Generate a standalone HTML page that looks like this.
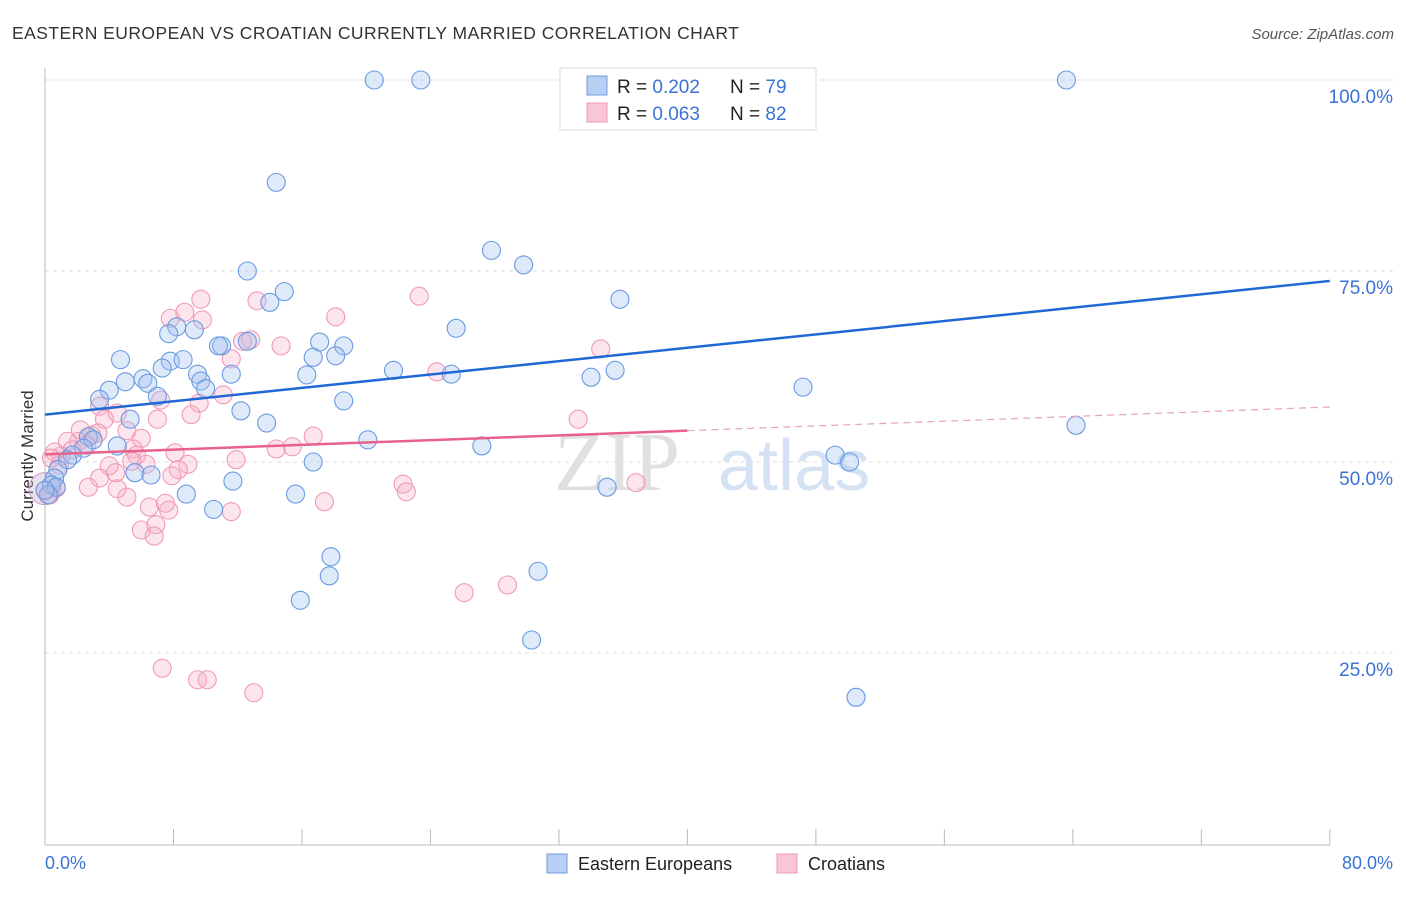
<!DOCTYPE html>
<html><head><meta charset="utf-8"><style>
body{margin:0;background:#fff;font-family:"Liberation Sans",sans-serif;}
</style></head><body>
<svg width="1406" height="892" xmlns="http://www.w3.org/2000/svg">
<text x="12" y="39" font-size="17.5" fill="#333" letter-spacing="0.45">EASTERN EUROPEAN VS CROATIAN CURRENTLY MARRIED CORRELATION CHART</text>
<text x="1394" y="39" font-size="15" fill="#555" font-style="italic" text-anchor="end">Source: ZipAtlas.com</text>
<g id="grid"></g>
<text x="554" y="490" font-size="84" fill="#e0e0e0" font-family="Liberation Serif,serif">ZIP</text>
<text x="718" y="490" font-size="72" fill="#d5e2f4">atlas</text>
<line x1="45" y1="68" x2="45" y2="845" stroke="#bbb"/>
<line x1="45" y1="845" x2="1330" y2="845" stroke="#bbb"/>
<g id="xticks"></g>
<g id="ylabels"></g>
<text x="45" y="869" font-size="18" fill="#3a72d8">0.0%</text>
<text x="1393" y="869" font-size="18" fill="#3a72d8" text-anchor="end">80.0%</text>
<text transform="translate(33,456) rotate(-90)" font-size="17" fill="#333" text-anchor="middle">Currently Married</text>
<g id="pts"></g>
<g id="lines"></g>
<g>
<rect x="560" y="68" width="256" height="62" fill="#fff" stroke="#ddd"/>
<rect x="587" y="76" width="20" height="19" fill="#b7cff2" stroke="#6f9be0"/>
<rect x="587" y="103" width="20" height="19" fill="#f9c6d6" stroke="#ee9ab5"/>
<text x="617" y="93" font-size="19" fill="#222">R = <tspan fill="#3a72d8">0.202</tspan></text>
<text x="730" y="93" font-size="19" fill="#222">N = <tspan fill="#3a72d8">79</tspan></text>
<text x="617" y="120" font-size="19" fill="#222">R = <tspan fill="#3a72d8">0.063</tspan></text>
<text x="730" y="120" font-size="19" fill="#222">N = <tspan fill="#3a72d8">82</tspan></text>
</g>
<g>
<rect x="547" y="854" width="20" height="19" fill="#b7cff2" stroke="#6f9be0"/>
<text x="578" y="870" font-size="18" fill="#222">Eastern Europeans</text>
<rect x="777" y="854" width="20" height="19" fill="#f9c6d6" stroke="#ee9ab5"/>
<text x="808" y="870" font-size="18" fill="#222">Croatians</text>
</g>
</svg>
<script>
const yTicks=[25,50,75,100];
const yTickLabels=["25.0%","50.0%","75.0%","100.0%"];
const xTicks=[0,8,16,24,32,40,48,56,64,72,80];
const blueX=[20.5,23.4,63.6,34.6,39.4,14.4,12.6,27.8,29.8,14.9,14.0,35.8,8.2,7.7,9.3,25.6,11.0,10.8,17.1,18.6,12.6,4.7,7.8,8.6,16.7,18.1,7.3,9.5,11.6,16.3,21.7,25.3,35.5,34.0,47.2,4.0,5.0,6.1,6.4,9.7,10.0,7.0,3.4,18.6,12.2,5.3,13.8,64.2,2.7,4.5,3.0,2.4,20.1,27.2,49.2,50.1,1.7,1.4,16.7,0.8,5.6,6.6,11.7,8.8,15.6,35.0,10.5,0.6,0.4,0.7,17.8,17.7,30.7,15.9,30.3,50.5,0.2,0];
const blueY=[100,100,100,100,100,86.6,75,77.7,75.8,72.3,70.9,71.3,67.7,66.8,67.3,67.5,65.2,65.2,65.7,65.2,65.8,63.4,63.2,63.4,63.7,63.9,62.3,61.5,61.5,61.4,62.0,61.5,62.0,61.1,59.8,59.4,60.5,60.9,60.3,60.6,59.6,58.6,58.2,58.0,56.7,55.6,55.1,54.8,53.3,52.1,52.9,51.8,52.9,52.1,50.9,50.0,50.9,50.3,50.0,49.0,48.6,48.3,47.5,45.8,45.8,46.7,43.8,47.9,47.0,46.7,37.6,35.1,35.7,31.9,26.7,19.2,45.7,46.3];
const pinkX=[23.3,9.7,13.2,8.7,7.8,18.1,9.8,12.3,12.8,14.7,11.6,34.6,24.4,7.2,9.6,3.4,11.1,4.5,9.1,3.7,7.0,5.1,2.2,2.9,2.1,1.4,6.0,1.7,3.3,16.7,14.4,15.4,5.5,5.7,1.0,0.6,8.1,4.0,6.3,8.9,8.3,11.9,5.4,3.4,4.4,7.9,22.3,22.5,4.5,2.7,5.1,6.5,7.5,0.7,7.7,11.6,17.4,6.0,6.9,6.8,33.2,36.8,26.1,28.8,7.3,9.5,10.1,13.0,0.3,0,0.9,2.6,0.4];
const pinkY=[71.7,71.3,71.1,69.6,68.8,69.0,68.6,65.8,66.0,65.2,63.5,64.8,61.8,58.1,57.7,57.3,58.8,56.4,56.2,55.6,55.6,54.1,54.2,53.5,52.7,52.7,53.1,51.6,53.8,53.4,51.7,52.0,51.7,50.9,50.8,51.3,51.2,49.5,49.7,49.7,49.0,50.3,50.1,47.9,48.6,48.2,47.1,46.1,46.5,46.7,45.4,44.1,44.6,46.6,43.7,43.5,44.8,41.1,41.8,40.3,55.6,47.3,32.9,33.9,23.0,21.5,21.5,19.8,45.7,46.3,49.6,52.2,50.5];
const blueTrend=[[0,56.2],[80,73.7]];
const pinkTrend=[[0,51.0],[40,54.1],[80,57.2]];
const NS="http://www.w3.org/2000/svg";
const sx=v=>45+v*16.06, sy=v=>844-v*7.64;
function mk(t,a,p){const e=document.createElementNS(NS,t);for(const k in a)e.setAttribute(k,a[k]);p.appendChild(e);return e;}
const grid=document.getElementById('grid'),yl=document.getElementById('ylabels'),xt=document.getElementById('xticks');
yTicks.forEach((t,i)=>{
 const l=mk('line',{x1:45,x2:1393,y1:sy(t),y2:sy(t),stroke:'#ddd','stroke-dasharray':'4,4'},grid);
 
 
 const tx=mk('text',{x:1393,y:sy(t)+23,'font-size':19,fill:'#3a72d8','text-anchor':'end'},yl);
 tx.textContent=yTickLabels[i];
 
 
});
xTicks.forEach(t=>{
 const l=mk('line',{x1:sx(t),x2:sx(t),y1:829,y2:845,stroke:'#bbb'},xt);
 
 
});
const pts=document.getElementById('pts');
[[0,46.5,16]].forEach(p=>{
 const c=mk('circle',{cx:sx(p[0]),cy:sy(p[1]),r:p[2],fill:'rgba(200,170,210,0.35)',stroke:'#c89ac8'},pts);
 
 
});
pinkX.forEach((x,i)=>{
 const c=mk('circle',{cx:sx(x),cy:sy(pinkY[i]),r:9,fill:'rgba(246,175,198,0.32)',stroke:'#f09ab6','stroke-width':1.1},pts);
 
 
});
blueX.forEach((x,i)=>{
 const c=mk('circle',{cx:sx(x),cy:sy(blueY[i]),r:9,fill:'rgba(160,192,238,0.35)',stroke:'#6a9ae2','stroke-width':1.1},pts);
 
 
});
const ln=document.getElementById('lines');
const b=mk('line',{x1:sx(blueTrend[0][0]),y1:sy(blueTrend[0][1]),x2:sx(blueTrend[1][0]),y2:sy(blueTrend[1][1]),stroke:'#2068d6','stroke-width':2.5},ln);


const p1=mk('line',{x1:sx(pinkTrend[0][0]),y1:sy(pinkTrend[0][1]),x2:sx(pinkTrend[1][0]),y2:sy(pinkTrend[1][1]),stroke:'#e8608c','stroke-width':2.5},ln);


const p2=mk('line',{x1:sx(pinkTrend[1][0]),y1:sy(pinkTrend[1][1]),x2:sx(pinkTrend[2][0]),y2:sy(pinkTrend[2][1]),stroke:'#e8a0b8','stroke-width':1.2,'stroke-dasharray':'7,5'},ln);


</script>
</body></html>
